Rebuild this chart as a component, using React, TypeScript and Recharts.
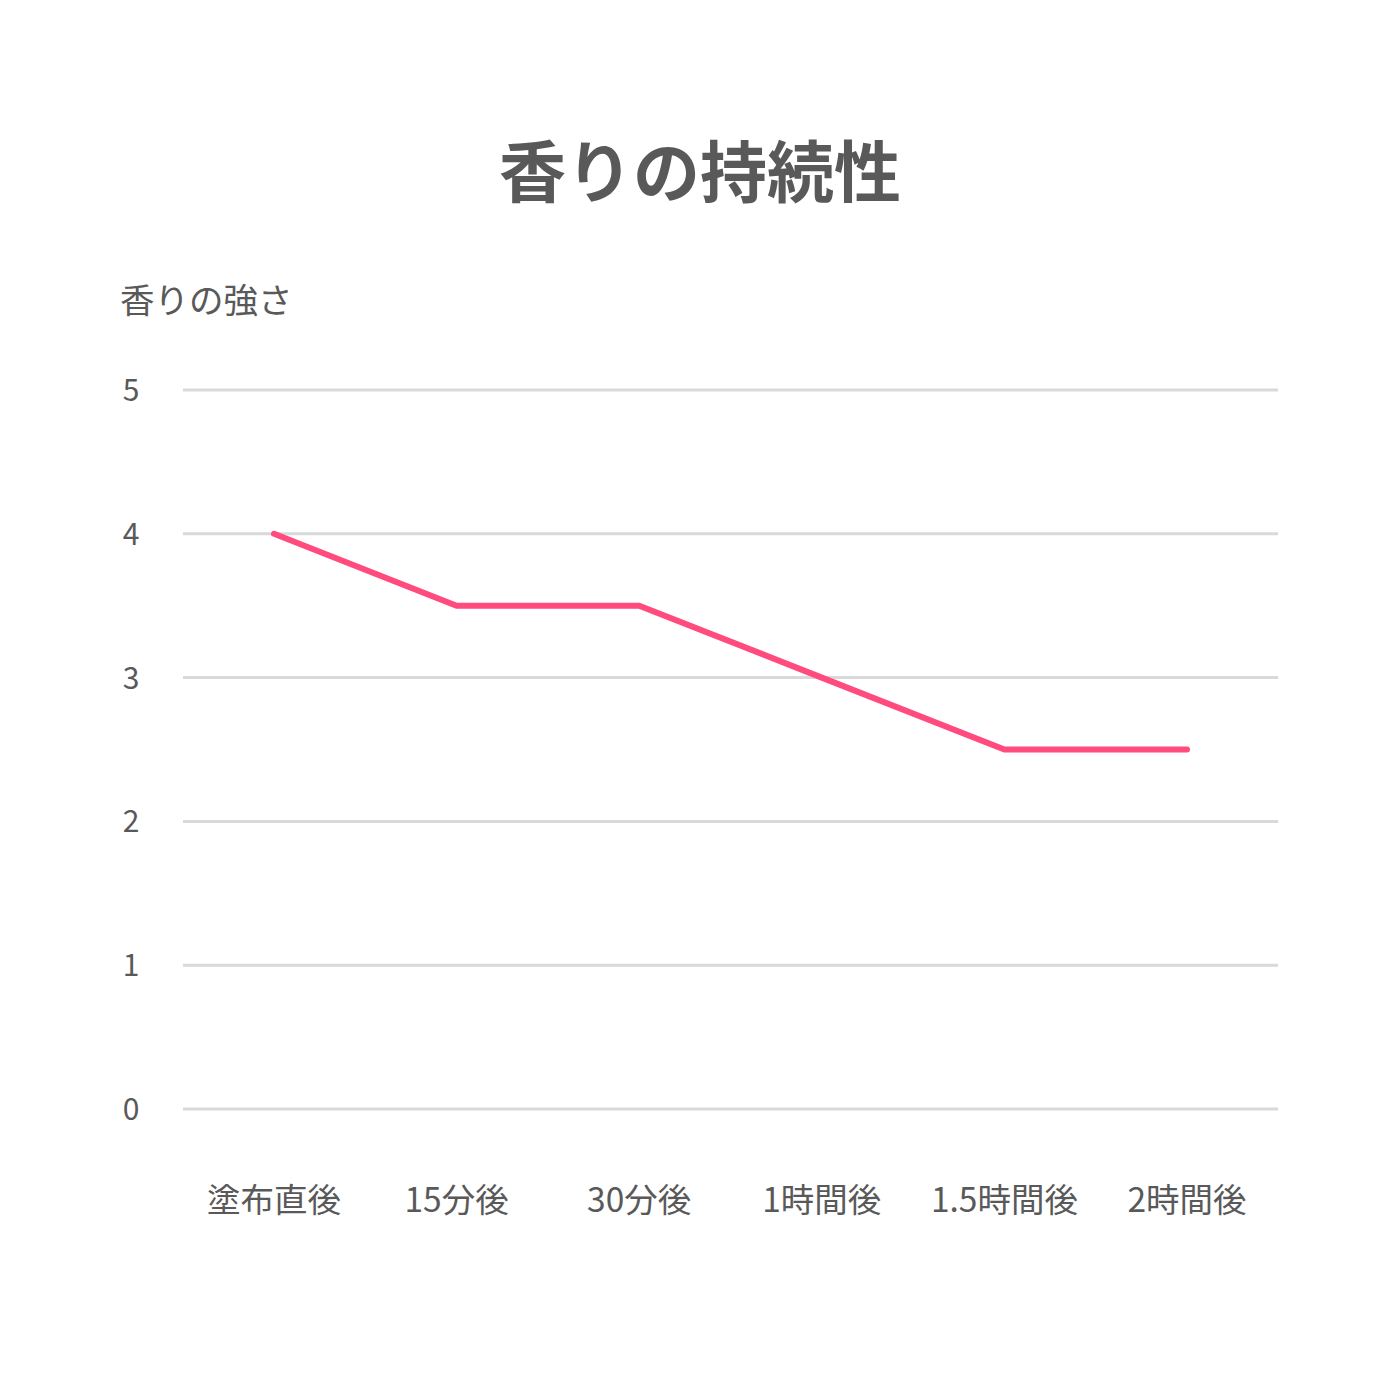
import React from "react";
import { LineChart, Line, XAxis, YAxis, CartesianGrid } from "recharts";

const categories = ["塗布直後", "15分後", "30分後", "1時間後", "1.5時間後", "2時間後"];
const intensity = [4, 3.5, 3.5, 3, 2.5, 2.5];
const yTicks = [0, 1, 2, 3, 4, 5];

const data = categories.map((name, i) => ({ name, value: intensity[i] }));

const FONT = "'Noto Sans CJK JP', 'Noto Sans', sans-serif";
const TEXT = "#595959";

const XTick = (props: any) => {
  const { x, payload } = props;
  return (
    <text x={x} y={1212} textAnchor="middle" fill={TEXT} fontSize={33.5} fontFamily={FONT}>
      {payload.value}
    </text>
  );
};

const YTick = (props: any) => {
  const { y, payload } = props;
  return (
    <text x={131} y={y + 11} textAnchor="middle" fill={TEXT} fontSize={30} fontFamily={FONT}>
      {payload.value}
    </text>
  );
};

export default function App() {
  return (
    <div style={{ position: "absolute", left: 0, top: 0, width: 1400, height: 1400, background: "#fff" }}>
      <div
        style={{
          position: "absolute",
          top: 126,
          left: 0,
          width: 1400,
          textAlign: "center",
          fontFamily: FONT,
          fontWeight: 700,
          fontSize: 67,
          color: TEXT,
          lineHeight: "84px",
        }}
      >
        香りの持続性
      </div>
      <div
        style={{
          position: "absolute",
          top: 276,
          left: 120,
          fontFamily: FONT,
          fontSize: 34.5,
          color: TEXT,
          lineHeight: "44px",
        }}
      >
        香りの強さ
      </div>
      <LineChart
        width={1400}
        height={1400}
        data={data}
        margin={{ top: 390, right: 122, bottom: 231, left: 123 }}
      >
        <CartesianGrid vertical={false} stroke="#D9D9D9" strokeWidth={3} />
        <XAxis
          dataKey="name"
          axisLine={false}
          tickLine={false}
          tick={<XTick />}
          height={60}
          padding={{ left: 91, right: 91 }}
          interval={0}
        />
        <YAxis
          domain={[0, 5]}
          ticks={yTicks}
          axisLine={false}
          tickLine={false}
          tick={<YTick />}
          width={60}
        />
        <Line
          dataKey="value"
          stroke="#FF4B7D"
          strokeWidth={6}
          dot={false}
          type="linear"
          strokeLinecap="round"
          isAnimationActive={false}
        />
      </LineChart>
    </div>
  );
}
